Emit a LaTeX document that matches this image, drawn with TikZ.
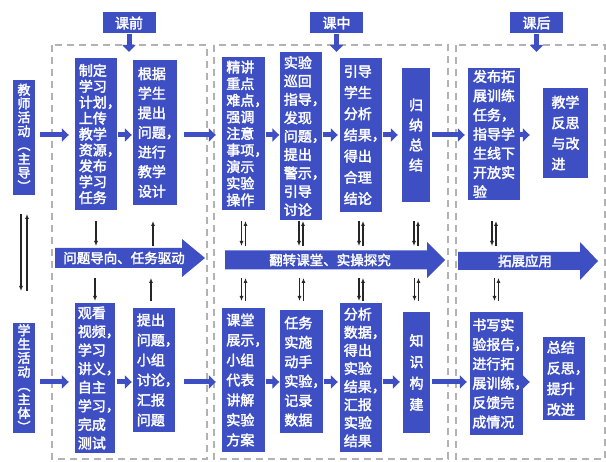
\documentclass[tikz,border=0pt]{standalone}
\usepackage{fontspec}
\newfontfamily\cjk{Noto Sans CJK SC}[FakeBold=2.4]
\usetikzlibrary{arrows.meta,calc}
\definecolor{myblue}{RGB}{62,79,196}
\newcommand\cma{\makebox[0.45em][l]{，}}
\newcommand\dblarr[4]{%
 \draw[tarr] ($(#1 |- #2)+(-#4,0)$) -- ($(#1 |- #3)+(-#4,0)$);
 \draw[tarr] ($(#1 |- #3)+(#4,0)$) -- ($(#1 |- #2)+(#4,0)$);}
\begin{document}
\begin{tikzpicture}[x=1pt,y=-1pt,
  blk/.style={fill=myblue,text=white,inner sep=0pt,align=left,font=\cjk\fontsize{14}{#1}\selectfont},
  blk/.default=17,
  lbl/.style={fill=myblue,text=white,inner sep=0pt,align=center,minimum width=22pt,font=\cjk\fontsize{13}{13.8}\selectfont},
  hdr/.style={fill=myblue,text=white,inner sep=0pt,minimum width=53pt,minimum height=21pt,font=\cjk\fontsize{14}{16}\selectfont},
  conn/.style={draw=myblue,line width=5pt,-{Triangle[length=7pt,width=13pt]}},
  tarr/.style={draw=black!85,line width=1.2pt,-{Latex[length=5pt,width=4pt]}},
  zone/.style={draw=black!30,line width=1.2pt,dash pattern=on 7pt off 5pt},
  bigarr/.style={fill=myblue},
  arrtxt/.style={text=white,inner sep=0pt,font=\cjk\fontsize{13.5}{15}\selectfont}]
\useasboundingbox (0,0) rectangle (606,462);
\fill[white] (0,0) rectangle (606,462);

% row reference coordinates
\coordinate (ty) at (0,135);
\coordinate (sy) at (0,382);
\coordinate (ra) at (0,221);
\coordinate (rb) at (0,246);
\coordinate (rc) at (0,278);
\coordinate (rd) at (0,301);
\coordinate (hd) at (0,52);
\coordinate (la) at (0,214);
\coordinate (lb) at (0,291);

% dashed zones
\draw[zone] (52,45) rectangle (207,459);
\draw[zone] (214,45) rectangle (448,459);
\draw[zone] (456,45) rectangle (605,459);

% headers
\node[hdr] (H1) at (129,23) {课前};
\node[hdr] (H2) at (336.5,23) {课中};
\node[hdr] (H3) at (536.5,23) {课后};
\draw[conn] (H1.south) -- (H1.south |- hd);
\draw[conn] (H2.south) -- (H2.south |- hd);
\draw[conn] (H3.south) -- (H3.south |- hd);

% side labels
\node[lbl,minimum height=115pt] (T) at (24,137.5) {教\\师\\活\\动\\︵\\主\\导\\︶};
\node[lbl,minimum height=110pt] (S) at (24,378) {学\\生\\活\\动\\︵\\主\\体\\︶};
\dblarr{T.south}{la}{lb}{3pt}

% teacher row
\node[blk=15.9,minimum width=42pt,minimum height=152pt] (A) at (96,134) {制定\\学习\\计划\cma\\上传\\教学\\资源\cma\\发布\\学习\\任务};
\node[blk=19.6,minimum width=44pt,minimum height=145pt] (B) at (155,132.5) {根据\\学生\\提出\\问题\cma\\进行\\教学\\设计};
\node[blk=16.6,minimum width=43pt,minimum height=153pt] (C) at (243.5,133.5) {精讲\\重点\\难点\cma\\强调\\注意\\事项\cma\\演示\\实验\\操作};
\node[blk=18.4,minimum width=42pt,minimum height=168pt] (D) at (301,136) {实验\\巡回\\指导\cma\\发现\\问题\cma\\提出\\警示\cma\\引导\\讨论};
\node[blk=21.2,minimum width=42pt,minimum height=154pt] (E) at (361,135) {引导\\学生\\分析\\结果\cma\\得出\\合理\\结论};
\node[blk=20,minimum width=28pt,minimum height=134pt] (F) at (416,135) {归\\纳\\总\\结};
\node[blk=19.2,minimum width=52pt,minimum height=132pt] (G) at (494,134) {发布拓\\展训练\\任务\cma\\指导学\\生线下\\开放实\\验};
\node[blk=20.6,minimum width=45pt,minimum height=90pt] (H) at (565.5,133) {教学\\反思\\与改\\进};

\draw[conn,shorten <=5pt,shorten >=6pt] (T.east |- ty) -- (A.west |- ty);
\draw[conn,shorten <=1pt,shorten >=1pt] (A.east |- ty) -- (B.west |- ty);
\draw[conn,shorten <=7pt,shorten >=6pt] (B.east |- ty) -- (C.west |- ty);
\draw[conn,shorten <=0.5pt,shorten >=0.5pt] (C.east |- ty) -- (D.west |- ty);
\draw[conn,shorten <=0.5pt,shorten >=2pt] (D.east |- ty) -- (E.west |- ty);
\draw[conn,shorten <=0.5pt,shorten >=4pt] (E.east |- ty) -- (F.west |- ty);
\draw[conn,shorten <=2pt,shorten >=3pt] (F.east |- ty) -- (G.west |- ty);
\draw[conn,shorten <=0pt,shorten >=13pt] (G.east |- ty) -- (H.west |- ty);

% big middle arrows
\fill[bigarr] (55,248) -- (182,248) -- (182,239) -- (205,258) -- (182,277) -- (182,268) -- (55,268) -- cycle;
\node[arrtxt] (R1) at (124,258) {问题导向、任务驱动};
\fill[bigarr] (225,250.5) -- (427,250.5) -- (427,242) -- (445,260) -- (427,278) -- (427,269.5) -- (225,269.5) -- cycle;
\node[arrtxt] (R2) at (330,260) {翻转课堂、实操探究};
\fill[bigarr] (458,252) -- (580,252) -- (580,242) -- (598,261) -- (580,280) -- (580,270) -- (458,270) -- cycle;
\node[arrtxt] (R3) at (525,261) {拓展应用};

% student row
\node[blk=18.6,minimum width=40pt,minimum height=150pt] (I) at (95,378) {观看\\视频\cma\\学习\\讲义\cma\\自主\\学习\cma\\完成\\测试};
\node[blk=20,minimum width=42pt,minimum height=124pt] (J) at (154,370) {提出\\问题\cma\\小组\\讨论\cma\\汇报\\问题};
\node[blk=20,minimum width=43pt,minimum height=144pt] (K) at (243.5,380) {课堂\\展示\cma\\小组\\代表\\讲解\\实验\\方案};
\node[blk=19.4,minimum width=43pt,minimum height=123pt] (L) at (301.5,371.5) {任务\\实施\\动手\\实验\cma\\记录\\数据};
\node[blk=18.1,minimum width=42pt,minimum height=149pt] (M) at (361,377.5) {分析\\数据\cma\\得出\\实验\\结果\cma\\汇报\\实验\\结果};
\node[blk=21.3,minimum width=27pt,minimum height=121pt] (N) at (416.5,372.5) {知\\识\\构\\建};
\node[blk=19.4,minimum width=53pt,minimum height=123pt] (O) at (496.5,373.5) {书写实\\验报告\cma\\进行拓\\展训练\cma\\反馈完\\成情况};
\node[blk=20.7,minimum width=42pt,minimum height=83pt] (P) at (564,378.5) {总结\\反思\cma\\提升\\改进};

\draw[conn,shorten <=5pt,shorten >=6pt] (S.east |- sy) -- (I.west |- sy);
\draw[conn,shorten <=1.5pt,shorten >=1pt] (I.east |- sy) -- (J.west |- sy);
\draw[conn,shorten <=9pt,shorten >=6pt] (J.east |- sy) -- (K.west |- sy);
\draw[conn,shorten <=0.5pt,shorten >=0.5pt] (K.east |- sy) -- (L.west |- sy);
\draw[conn,shorten <=0.5pt,shorten >=2pt] (L.east |- sy) -- (M.west |- sy);
\draw[conn,shorten <=0.5pt,shorten >=3pt] (M.east |- sy) -- (N.west |- sy);
\draw[conn,shorten <=2pt,shorten >=3pt] (N.east |- sy) -- (O.west |- sy);
\draw[conn,shorten <=0pt,shorten >=13pt] (O.east |- sy) -- (P.west |- sy);

% thin arrows, zone 1
\draw[tarr] (A.south |- ra) -- (A.south |- rb);
\draw[tarr] ($(B.south |- rb)+(-2pt,0)$) -- ($(B.south |- ra)+(-2pt,0)$);
\draw[tarr] (I.north |- rc) -- (I.north |- rd);
\draw[tarr] ($(J.north |- rd)+(-3pt,0)$) -- ($(J.north |- rc)+(-3pt,0)$);

% double arrows, zones 2 and 3
\dblarr{C.south}{ra}{rb}{2pt}
\dblarr{D.south}{ra}{rb}{2pt}
\dblarr{E.south}{ra}{rb}{2pt}
\dblarr{F.south}{ra}{rb}{2pt}
\dblarr{G.south}{ra}{rb}{2pt}
\dblarr{K.north}{rc}{rd}{2pt}
\dblarr{L.north}{rc}{rd}{2pt}
\dblarr{M.north}{rc}{rd}{2pt}
\dblarr{N.north}{rc}{rd}{2pt}
\dblarr{O.north}{rc}{rd}{2pt}
\end{tikzpicture}
\end{document}
